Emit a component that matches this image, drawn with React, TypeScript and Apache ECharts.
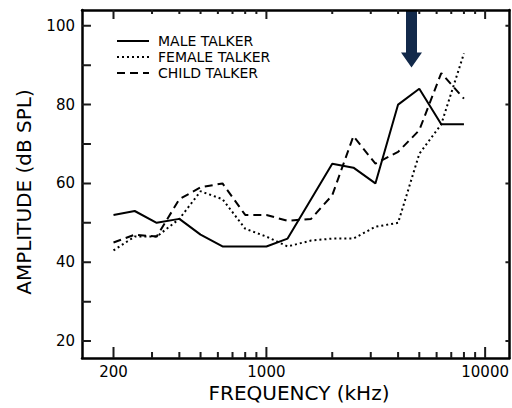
import React, { useEffect, useRef } from "react";
import * as echarts from "echarts";

// Frequencies (Hz, 1/3-octave bands)
const freqs = [200, 250, 315, 400, 500, 630, 800, 1000, 1250, 1600, 2000, 2500, 3150, 4000, 5000, 6300, 8000];
// Amplitudes (dB SPL)
const male = [52, 53, 50, 51, 47, 44, 44, 44, 46, null, 65, 64, 60, 80, 84, 75, 75];
const female = [43, 46.5, 46.5, 51, 58, 56, 48.5, 46.5, 44, 45.5, 46, 46, 49, 50, 67.5, 75, 93];
const child = [45, 47, 46.5, 56, 59, 60, 52, 52, 50.5, 51, 57, 72, 65, 68, 73.5, 88, 81.5];

const seriesNames = ["MALE TALKER", "FEMALE TALKER", "CHILD TALKER"];
const majorFreqTicks = [200, 1000, 10000];
const minorFreqTicks = [300, 400, 500, 600, 700, 800, 900, 2000, 3000, 4000, 5000, 6000, 7000, 8000, 9000];
const ampTicks = [20, 30, 40, 50, 60, 70, 80, 90, 100];
const ampLabels = [20, 40, 60, 80, 100];

const FONT = "DejaVu Sans";
const TICK = "#1a1a1a";

export default function App() {
  const ref = useRef<HTMLDivElement>(null);

  useEffect(() => {
    if (!ref.current) return;
    const chart = echarts.init(ref.current, undefined, { renderer: "svg" });
    const lg = (v: number) => Math.log10(v);
    const xMin = 2.157;
    const xMax = 4.111;
    const yMin = 15.7;
    const yMax = 104;
    const px = (xMax - xMin) / 430; // data units per pixel (x)
    const py = (yMax - yMin) / 348; // data units per pixel (y)
    const als = { color: "#000", width: 2.5 };

    const mk = (vals: (number | null)[]) => freqs.map((f, i) => [lg(f), vals[i]]);

    // tick marks as broken line segments placed by the axes' own scales
    const vT = (vals: number[], y0: number, len: number) => ({
      type: "line",
      symbol: "none",
      lineStyle: { color: TICK, width: 2 },
      data: vals.flatMap((f) => [
        [lg(f), y0],
        [lg(f), y0 + len * py],
        [lg(f), "-"],
      ]),
    });
    const hT = (vals: number[], x0: number, len: number) => ({
      type: "line",
      symbol: "none",
      lineStyle: { color: TICK, width: 2 },
      data: vals.flatMap((v) => [
        [x0, v],
        [x0 + len * px, v],
        [x0, "-"],
      ]),
    });

    chart.setOption({
      animation: false,
      backgroundColor: "#fff",
      grid: { left: 82, right: 0, top: 10, bottom: 50 },
      xAxis: [
        {
          type: "value",
          position: "bottom",
          min: xMin,
          max: xMax,
          axisLine: { show: true, onZero: false, lineStyle: als },
          axisTick: { show: false },
          axisLabel: {
            customValues: majorFreqTicks.map(lg),
            formatter: (v: number) => String(Math.round(Math.pow(10, v))),
            fontFamily: FONT,
            fontSize: 15,
            color: "#000",
            margin: 6,
          },
          splitLine: { show: false },
        },
        {
          type: "value",
          position: "top",
          min: xMin,
          max: xMax,
          axisLine: { show: true, onZero: false, lineStyle: als },
          axisTick: { show: false },
          axisLabel: { show: false },
          splitLine: { show: false },
        },
      ],
      yAxis: [
        {
          type: "value",
          position: "left",
          min: yMin,
          max: yMax,
          axisLine: { show: true, onZero: false, lineStyle: als },
          axisTick: { show: false },
          axisLabel: { customValues: ampLabels, fontFamily: FONT, fontSize: 15, color: "#000", margin: 7 },
          splitLine: { show: false },
        },
        {
          type: "value",
          position: "right",
          min: yMin,
          max: yMax,
          axisLine: { show: true, onZero: false, lineStyle: als },
          axisTick: { show: false },
          axisLabel: { show: false },
          splitLine: { show: false },
        },
      ],
      legend: {
        data: seriesNames,
        orient: "vertical",
        left: 116,
        top: 34,
        itemWidth: 32,
        itemHeight: 14,
        itemGap: 2,
        padding: 0,
        itemStyle: { opacity: 0 },
        textStyle: { fontFamily: FONT, fontSize: 14, color: "#000", padding: [0, 0, 0, 4] },
      },
      series: [
        vT(majorFreqTicks, yMin, 11),
        vT(minorFreqTicks, yMin, 6),
        vT(majorFreqTicks, yMax, -9),
        vT(minorFreqTicks, yMax, -4),
        hT(ampTicks, xMin, 9),
        hT(ampLabels, xMax, -4),
        {
          name: seriesNames[0],
          type: "line",
          data: mk(male),
          connectNulls: true,
          symbol: "none",
          lineStyle: { color: "#000", width: 2 },
          itemStyle: { color: "#000" },
        },
        {
          name: seriesNames[1],
          type: "line",
          data: mk(female),
          symbol: "none",
          lineStyle: { color: "#000", width: 2, type: [2, 3] },
          itemStyle: { color: "#000" },
        },
        {
          name: seriesNames[2],
          type: "line",
          data: mk(child),
          symbol: "none",
          lineStyle: { color: "#000", width: 2, type: [8, 5] },
          itemStyle: { color: "#000" },
        },
      ],
      graphic: [
        {
          type: "text",
          x: 299,
          y: 393,
          style: {
            text: "FREQUENCY (kHz)",
            font: `20px "${FONT}"`,
            fill: "#000",
            align: "center",
            verticalAlign: "middle",
          },
        },
        {
          type: "text",
          x: 24,
          y: 192,
          rotation: Math.PI / 2,
          style: {
            text: "AMPLITUDE (dB SPL)",
            font: `20px "${FONT}"`,
            fill: "#000",
            align: "center",
            verticalAlign: "middle",
          },
        },
        {
          type: "polygon",
          shape: {
            points: [
              [406, 11],
              [417, 11],
              [417, 52.5],
              [422, 52.5],
              [411.5, 67.5],
              [401, 52.5],
              [406, 52.5],
            ],
          },
          style: { fill: "#12294a" },
        },
      ],
    });

    return () => chart.dispose();
  }, []);

  return (
    <div
      ref={ref}
      style={{ position: "fixed", left: 0, top: 0, width: 512, height: 408, background: "#fff" }}
    />
  );
}
